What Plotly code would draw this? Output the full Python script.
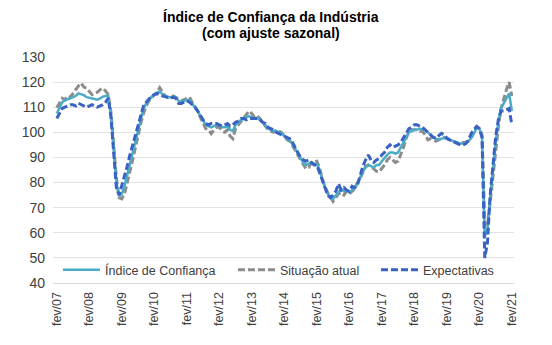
import plotly.graph_objects as go

meses = ["jan", "fev", "mar", "abr", "mai", "jun", "jul", "ago", "set", "out", "nov", "dez"]
n_meses = 169  # fev/07 .. fev/21
categorias = [f"{meses[(1 + m) % 12]}/{(7 + (1 + m) // 12):02d}" for m in range(n_meses)]
ticks_x = categorias[::12]

# Índice de Confiança da Indústria (ICI)
ici = [
    107.5, 109.5, 112, 112.8, 113, 113.5, 114, 114.5, 115.5, 115.3, 114.8, 114,
    113.8, 113.5, 113.2, 113, 113.5, 114.2, 114.5, 114.5, 107, 93, 80, 74.5,
    75.5, 78.5, 83, 88, 92.5, 97, 101.5, 106, 109.5, 111.5, 113, 114.2,
    115, 115.8, 116.2, 115.2, 114.3, 114, 114, 114.3, 113.8, 112.5, 112, 112.5,
    113, 112.8, 111.5, 110, 108.5, 106.5, 104.5, 103, 102.5, 102, 102.5, 103,
    102.8, 102, 102, 102.5, 101, 100.5, 103, 104, 105, 105.5, 106, 106.5,
    106, 105.5, 105.8, 105, 104, 103, 101.5, 101, 100.5, 100.5, 100, 99.5,
    98.5, 97.5, 97, 95.5, 93.5, 91.5, 89.5, 88, 87, 87.5, 88, 87.5,
    87.5, 85, 81, 78, 75.5, 74, 73.5, 75, 76.5, 77.5, 76.5, 77,
    76, 77, 78, 79.5, 82, 84.5, 86, 87, 86.5, 86, 87, 87,
    88.5, 90, 91, 92, 92, 91.5, 92, 94, 95.8, 98, 100, 100.5,
    101, 101, 101.5, 101, 101, 100, 99, 98, 97.5, 97, 97.5, 97.7,
    97.5, 97, 96.5, 96, 95.8, 95.5, 95.8, 95.8, 96.5, 97.7, 99.5, 101.7,
    101.5, 98, 58.5, 61.5, 74, 86, 96, 104, 109.5, 111.5, 113.5, 115.5, 108.5,
]

# Situação atual (ISA)
situacao = [
    109.8, 112, 113.6, 113, 114.5, 114, 115.6, 117, 118.5, 119.6, 118, 117.6,
    116.5, 115, 115.5, 116, 117, 117.6, 116.5, 115, 108, 94, 82, 74,
    73.5, 75.5, 79.5, 84.5, 89, 94, 99, 103.5, 107.5, 110.5, 112.5, 114,
    115, 116, 117.8, 116, 114.5, 114, 114.5, 114.5, 114, 113, 112.5, 113,
    113.5, 114, 112, 110.5, 108.5, 106, 104, 101.5, 101, 99.5, 101, 102,
    102, 100.5, 100, 101, 98.5, 97.5, 101.5, 103, 104.5, 105.5, 107.5, 108.5,
    107.5, 106, 106.5, 105.5, 104, 102.5, 101, 100.5, 100, 101, 100.5, 100,
    98.5, 97, 96.5, 95, 93, 91, 89, 87, 85.5, 86, 88, 88,
    88.5, 86, 81.5, 78.5, 76, 74.5, 72.5, 74, 75.5, 76, 75, 76.5,
    75.5, 76.5, 77.5, 80, 81.5, 84, 86.5, 87, 86, 85.5, 84.5, 84.3,
    85.5, 87, 89, 90, 89, 88, 88.5, 91, 94, 97.5, 100.5, 101,
    101, 101, 100.5, 100.3, 99, 97, 97.5, 97, 96.5, 97, 97.5, 98,
    97.5, 97, 96.5, 96, 95.8, 95.5, 96, 96, 96.5, 98, 100, 102.3,
    101.5, 99, 64.5, 63, 72, 83, 93, 102, 109.5, 113.5, 117, 120, 114.5,
]

# Expectativas (IE)
expectativas = [
    105.5, 107.5, 109.5, 110, 110.5, 111, 111, 110.5, 111.6, 111.2, 110.5, 110,
    110.5, 111, 110.5, 110, 110.5, 111, 112, 113.7, 106, 91, 78, 75,
    78.5, 82, 86.5, 91, 95, 99, 103, 107.5, 110.5, 112, 113.5, 114.5,
    115, 115.5, 114.8, 114.5, 114, 114, 113.5, 114, 113.5, 111.5, 111.5, 112,
    112.5, 112, 111, 110, 108.5, 106.5, 105, 103.5, 103, 103.5, 103.5, 103.5,
    103, 102.5, 103, 103.5, 102.5, 103, 104, 104.5, 105.5, 105.5, 105, 105.5,
    105.5, 105.5, 105.5, 105, 104, 103.5, 102, 101.5, 101, 100, 99.5, 99,
    98.5, 98, 97.5, 96, 94, 92, 90, 89, 88.5, 89, 88, 87,
    87, 84, 80.5, 77.5, 75, 74, 75, 76.5, 79.5, 77, 78, 77,
    76.5, 78.5, 78, 79, 83, 86.5, 89, 91, 89, 88, 89, 89.5,
    91, 92, 94, 95, 94, 94.5, 95, 96, 98, 100, 101.5, 102,
    103, 103, 102.5, 102, 101, 100, 99, 98, 97.7, 98.5, 99.6, 99,
    97.7, 97, 96.5, 95.8, 95.5, 95, 95, 95.5, 97, 99.5, 101, 102.3,
    101.5, 98, 50, 56, 75, 88, 98, 105, 108.5, 108.5, 109, 109.5, 103,
]

font_fam = "Liberation Sans, Arial, sans-serif"
txt = "#404040"

# plot-area pixel geometry
L, R, T, B = 53, 514, 57, 283
W, H = R - L, B - T


def px_x(p):
    return (p - L) / W


def px_y(p):
    return (B - p) / H


fig = go.Figure()
fig.add_trace(go.Scatter(
    x=categorias, y=situacao, name="Situação atual", mode="lines",
    line=dict(color="#8C8C8C", width=3, dash="7px,3px"), legend="legend2",
))
fig.add_trace(go.Scatter(
    x=categorias, y=ici, name="Índice de Confiança", mode="lines",
    line=dict(color="#4BACC6", width=2.5), legend="legend",
))
fig.add_trace(go.Scatter(
    x=categorias, y=expectativas, name="Expectativas", mode="lines",
    line=dict(color="#3A62C4", width=3, dash="7px,3px"), legend="legend3",
))

leg_common = dict(
    orientation="h", xref="paper", yref="paper", yanchor="middle", xanchor="left",
    y=px_y(270), bgcolor="rgba(0,0,0,0)", itemwidth=37,
    font=dict(family=font_fam, size=12.5, color=txt),
)

fig.update_layout(
    width=552, height=345,
    margin=dict(l=L, r=552 - R, t=T, b=345 - B, autoexpand=False),
    paper_bgcolor="white", plot_bgcolor="white",
    font=dict(family=font_fam, color=txt),
    showlegend=True,
    legend=dict(x=px_x(58), **leg_common),
    legend2=dict(x=px_x(233), **leg_common),
    legend3=dict(x=px_x(376), **leg_common),
    xaxis=dict(
        type="category", categoryorder="array", categoryarray=categorias,
        range=[-1.4, 168.8],
        tickmode="array", tickvals=ticks_x, ticktext=ticks_x,
        tickangle=-90, tickfont=dict(size=12.5, color=txt, family=font_fam),
        showgrid=False, showline=True, linecolor="#D9D9D9", linewidth=1,
        ticks="", zeroline=False, ticklabelstandoff=3,
    ),
    yaxis=dict(
        range=[40, 130], dtick=10, tick0=40,
        showgrid=True, gridcolor="#E3E3E3", gridwidth=1,
        tickfont=dict(size=14, color=txt, family=font_fam),
        zeroline=False, showline=False, ticks="", ticklabelstandoff=7,
    ),
    annotations=[
        dict(text="<b>Índice de Confiança da Indústria</b>", xref="paper", yref="paper",
             x=px_x(271), y=px_y(17), showarrow=False,
             xanchor="center", yanchor="middle",
             font=dict(size=14, color="#000000", family=font_fam)),
        dict(text="<b>(com ajuste sazonal)</b>", xref="paper", yref="paper",
             x=px_x(271), y=px_y(33), showarrow=False,
             xanchor="center", yanchor="middle",
             font=dict(size=14, color="#000000", family=font_fam)),
    ],
)

fig.write_html("out.html")
